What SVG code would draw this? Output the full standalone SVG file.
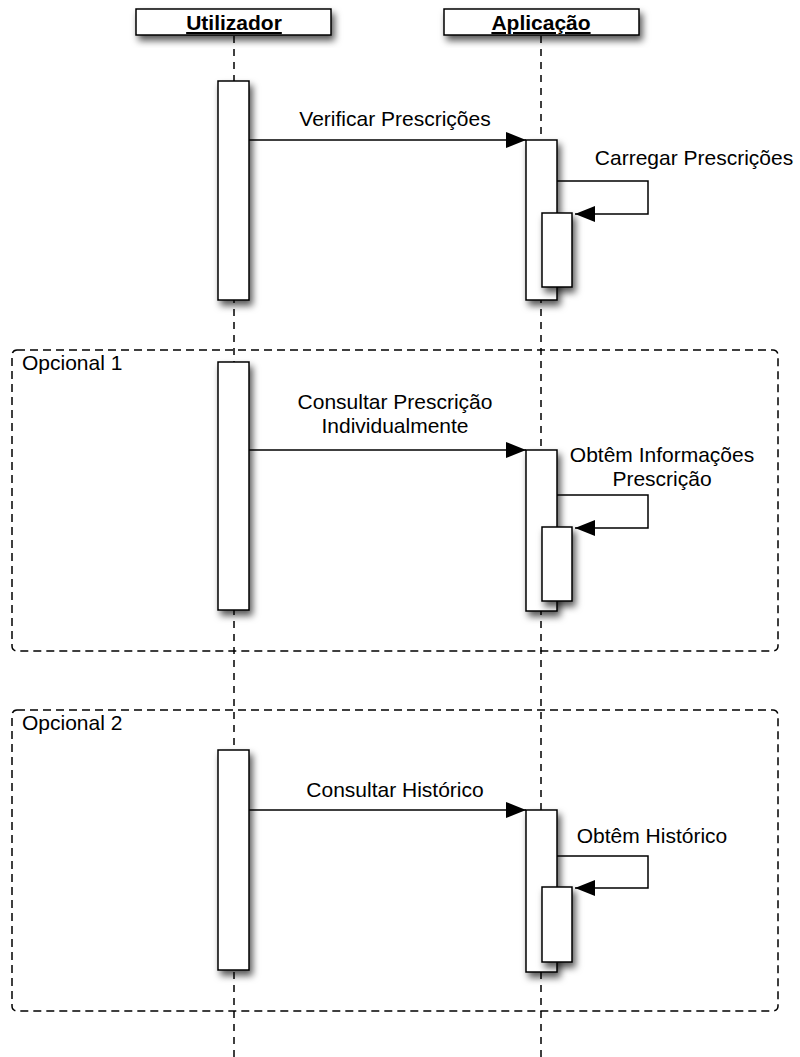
<svg xmlns="http://www.w3.org/2000/svg" width="800" height="1057" viewBox="0 0 800 1057">
  <defs>
    <filter id="shadow" x="-50%" y="-50%" width="200%" height="200%">
      <feDropShadow dx="3" dy="5" stdDeviation="3.5" flood-color="#000" flood-opacity="0.65"/>
    </filter>
    <marker id="head" markerUnits="userSpaceOnUse" markerWidth="22" markerHeight="18" refX="20" refY="8" orient="auto">
      <path d="M0,0 L20,8 L0,16 z" fill="#000"/>
    </marker>
    <style>
      .box { fill: #fff; stroke: #000; stroke-width: 1.5; filter: url(#shadow); }
      .life { stroke: #000; stroke-width: 1.5; stroke-dasharray: 7 6; fill: none; }
      .frame { fill: none; stroke: #000; stroke-width: 1.5; stroke-dasharray: 8 5; }
      .msg { fill: none; stroke: #000; stroke-width: 1.5; marker-end: url(#head); }
      .lbl { font-family: "Liberation Sans", Arial, Helvetica, sans-serif; font-size: 21px; fill: #000; }
      .hdr { font-family: "Liberation Sans", Arial, Helvetica, sans-serif; font-size: 21px; font-weight: bold; text-decoration: underline; fill: #000; }
      .mid { text-anchor: middle; }
    </style>
  </defs>
  <rect width="800" height="1057" fill="#fff"/>

  <!-- optional fragments -->
  <g id="frame-opcional-1">
    <rect class="frame" x="12" y="350" width="766" height="301" rx="5"/>
    <text class="lbl" x="22" y="370">Opcional 1</text>
  </g>
  <g id="frame-opcional-2">
    <rect class="frame" x="12" y="710" width="766" height="301" rx="5"/>
    <text class="lbl" x="22" y="730">Opcional 2</text>
  </g>

  <!-- lifelines -->
  <g id="lifelines">
    <line class="life" x1="234" y1="36" x2="234" y2="1057"/>
    <line class="life" x1="541" y1="36" x2="541" y2="1057"/>
  </g>

  <!-- participants -->
  <g id="utilizador">
    <rect class="box" x="136" y="9" width="195" height="26"/>
    <text class="hdr mid" x="234" y="30">Utilizador</text>
  </g>
  <g id="aplicacao">
    <rect class="box" x="444" y="9" width="195" height="26"/>
    <text class="hdr mid" x="541" y="30">Aplicação</text>
  </g>

  <!-- activations: Utilizador -->
  <g id="act-u1"><rect class="box" x="218" y="81" width="31" height="219"/></g>
  <g id="act-u2"><rect class="box" x="218" y="362" width="31" height="248"/></g>
  <g id="act-u3"><rect class="box" x="218" y="750" width="31" height="220"/></g>

  <!-- activations: Aplicação -->
  <g id="act-a1"><rect class="box" x="526" y="140" width="31" height="160"/></g>
  <g id="act-a1-inner"><rect class="box" x="542" y="213" width="30" height="74"/></g>
  <g id="act-a2"><rect class="box" x="526" y="450" width="31" height="161"/></g>
  <g id="act-a2-inner"><rect class="box" x="542" y="527" width="30" height="74"/></g>
  <g id="act-a3"><rect class="box" x="526" y="810" width="31" height="162"/></g>
  <g id="act-a3-inner"><rect class="box" x="542" y="887" width="30" height="75"/></g>

  <!-- messages -->
  <g id="connectors">
    <line class="msg" x1="249" y1="140" x2="526" y2="140"/>
    <polyline class="msg" points="557,181 648,181 648,214 575,214"/>
    <line class="msg" x1="249" y1="450" x2="526" y2="450"/>
    <polyline class="msg" points="557,495 648,495 648,528 575,528"/>
    <line class="msg" x1="249" y1="810" x2="526" y2="810"/>
    <polyline class="msg" points="557,856 648,856 648,888 575,888"/>
  </g>

  <!-- message labels -->
  <g id="labels">
    <text class="lbl mid" x="395" y="126">Verificar Prescrições</text>
    <text class="lbl mid" x="694" y="165">Carregar Prescrições</text>
    <text class="lbl mid" x="395" y="409">Consultar Prescrição</text>
    <text class="lbl mid" x="395" y="433">Individualmente</text>
    <text class="lbl mid" x="662" y="462">Obtêm Informações</text>
    <text class="lbl mid" x="662" y="486">Prescrição</text>
    <text class="lbl mid" x="395" y="797">Consultar Histórico</text>
    <text class="lbl mid" x="652" y="843">Obtêm Histórico</text>
  </g>
</svg>
